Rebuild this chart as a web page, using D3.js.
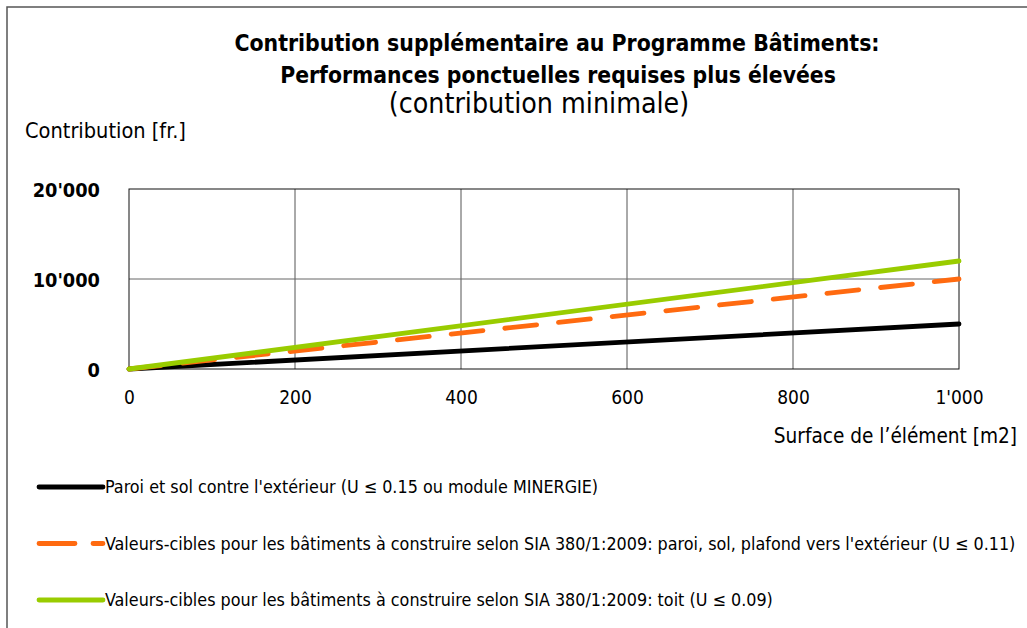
<!DOCTYPE html>
<html>
<head>
<meta charset="utf-8">
<script src="https://cdn.jsdelivr.net/npm/d3@7"></script>
<style>
  body { margin: 0; background: #fff; }
  svg text { font-family: "DejaVu Sans Condensed", "DejaVu Sans", sans-serif; }
</style>
</head>
<body>
<svg id="chart" width="1027" height="628"></svg>
<script>
// surface [m2] at the ends of each series
const surfaces = [0, 1000];
const seriesNames = [
  "Paroi et sol contre l'extérieur (U ≤ 0.15 ou module MINERGIE)",
  "Valeurs-cibles pour les bâtiments à construire selon SIA 380/1:2009: paroi, sol, plafond vers l'extérieur (U ≤ 0.11)",
  "Valeurs-cibles pour les bâtiments à construire selon SIA 380/1:2009: toit (U ≤ 0.09)"
];
const paroiValues = [0, 5000];
const paroiCibleValues = [0, 10000];
const toitValues = [0, 12000];
const xTicks = [0, 200, 400, 600, 800, 1000];
const yTicks = [0, 10000, 20000];

const svg = d3.select("#chart");
const margin = { left: 129, right: 959, top: 189, bottom: 369 };

const x = d3.scaleLinear().domain([0, 1000]).range([margin.left, margin.right]);
const y = d3.scaleLinear().domain([0, 20000]).range([margin.bottom, margin.top]);

const fmt = v => v === 0 ? "0" : d3.format(",")(v).replace(/,/g, "'");

// outer frame (top and left only)
svg.append("path")
  .attr("d", "M7,628 V7 H1027")
  .attr("fill", "none")
  .attr("stroke", "#555")
  .attr("stroke-width", 1.5);

// titles
const title = svg.append("g").attr("text-anchor", "middle");
title.append("text")
  .attr("x", 557).attr("y", 51)
  .attr("font-size", 22.8).attr("font-weight", "bold")
  .text("Contribution supplémentaire au Programme Bâtiments:");
title.append("text")
  .attr("x", 558).attr("y", 83)
  .attr("font-size", 22.7).attr("font-weight", "bold")
  .text("Performances ponctuelles requises plus élevées");
title.append("text")
  .attr("x", 539).attr("y", 113)
  .attr("font-size", 28.3)
  .text("(contribution minimale)");

svg.append("text")
  .attr("x", 25).attr("y", 138)
  .attr("font-size", 21.6)
  .text("Contribution [fr.]");

// grid
const grid = svg.append("g");
grid.selectAll("line.v")
  .data(xTicks.slice(1, -1))
  .join("line")
  .attr("x1", d => x(d)).attr("x2", d => x(d))
  .attr("y1", margin.top).attr("y2", margin.bottom)
  .attr("stroke", "#555").attr("stroke-width", 1);
grid.selectAll("line.h")
  .data(yTicks.slice(1, -1))
  .join("line")
  .attr("x1", margin.left).attr("x2", margin.right)
  .attr("y1", d => y(d)).attr("y2", d => y(d))
  .attr("stroke", "#666").attr("stroke-width", 1);

svg.append("rect")
  .attr("x", margin.left).attr("y", margin.top)
  .attr("width", margin.right - margin.left)
  .attr("height", margin.bottom - margin.top)
  .attr("fill", "none")
  .attr("stroke", "#111").attr("stroke-width", 1);

// axes labels
const xAxis = d3.axisBottom(x).tickValues(xTicks).tickSize(0).tickPadding(0).tickFormat(fmt);
svg.append("g")
  .attr("transform", `translate(0, ${margin.bottom})`)
  .call(xAxis)
  .call(g => g.select(".domain").remove())
  .call(g => g.selectAll("text")
    .attr("dy", null).attr("y", 35)
    .attr("font-family", "Lato, 'Open Sans', sans-serif")
    .attr("font-size", 19).attr("fill", "#000"));

const yAxis = d3.axisLeft(y).tickValues(yTicks).tickSize(0).tickPadding(0).tickFormat(fmt);
svg.append("g")
  .attr("transform", `translate(100, 0)`)
  .call(yAxis)
  .call(g => g.select(".domain").remove())
  .call(g => g.selectAll("text")
    .attr("dy", "0.38em").attr("y", 0)
    .attr("font-family", "'Liberation Sans', Arial, sans-serif")
    .attr("font-weight", "bold")
    .attr("font-size", 19.8).attr("fill", "#000"));

svg.append("text")
  .attr("x", 1017).attr("y", 443)
  .attr("text-anchor", "end")
  .attr("font-family", "Lato, 'Open Sans', sans-serif")
  .attr("font-size", 20.6)
  .text("Surface de l’élément [m2]");

// series
const series = [
  { name: seriesNames[0], values: paroiValues, color: "#000000", dash: null },
  { name: seriesNames[1], values: paroiCibleValues, color: "#ff6a10", dash: "32,22" },
  { name: seriesNames[2], values: toitValues, color: "#99cc00", dash: null }
];

const line = d3.line()
  .x((d, i) => x(surfaces[i]))
  .y(d => y(d));

svg.append("g")
  .selectAll("path")
  .data(series)
  .join("path")
  .attr("d", d => line(d.values))
  .attr("fill", "none")
  .attr("stroke", d => d.color)
  .attr("stroke-width", 4.8)
  .attr("stroke-linecap", "round")
  .attr("stroke-dasharray", d => d.dash);

// legend
const legend = svg.append("g");
const rows = legend.selectAll("g")
  .data(series)
  .join("g")
  .attr("transform", (d, i) => `translate(0, ${487 + i * 56.5})`);
rows.append("line")
  .attr("x1", 39).attr("x2", 103)
  .attr("y1", 0).attr("y2", 0)
  .attr("stroke", d => d.color)
  .attr("stroke-width", 4.8)
  .attr("stroke-linecap", "round")
  .attr("stroke-dasharray", d => d.dash ? "36,18" : null);
rows.append("text")
  .attr("x", 105).attr("y", 0)
  .attr("dy", "0.35em")
  .attr("font-size", 17.8)
  .text(d => d.name);
</script>
</body>
</html>
